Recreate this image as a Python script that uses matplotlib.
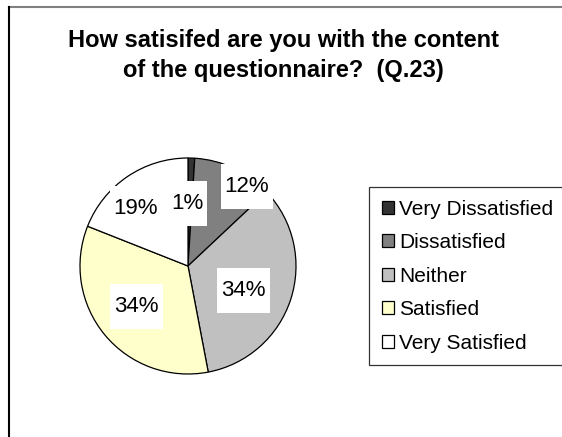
import numpy as np
import matplotlib
matplotlib.use("Agg")
import matplotlib.pyplot as plt
from matplotlib.patches import Rectangle, Patch
from matplotlib.lines import Line2D

plt.rcParams['font.family'] = ['Liberation Sans', 'DejaVu Sans']

categories = ["Very Dissatisfied", "Dissatisfied", "Neither", "Satisfied", "Very Satisfied"]
percentages = [1, 12, 34, 34, 19]
colors = ["#333333", "#808080", "#C0C0C0", "#FFFFCC", "#FFFFFF"]

title_line1 = "How satisifed are you with the content"
title_line2 = "of the questionnaire?  (Q.23)"

# label placement: radial distance (fraction of radius) and angular nudge (deg)
label_dist = [0.58, 0.92, 0.56, 0.61, 0.715]
label_nudge = [2.7, -11.2, -5.6, -1.3, 8.2]

W, H = 562, 437
fig = plt.figure(figsize=(W / 100, H / 100), dpi=100)
ax = fig.add_axes([0, 0, 1, 1])

cx, cy, r = 188, H - 266, 108
wedges, _ = ax.pie(percentages, colors=colors, startangle=90, counterclock=False,
                   center=(cx, cy), radius=r,
                   wedgeprops=dict(edgecolor="black", linewidth=0.9))
ax.set_xlim(0, W)
ax.set_ylim(0, H)
ax.set_aspect("equal")
ax.axis("off")

texts = []
for w, p, d, nudge in zip(wedges, percentages, label_dist, label_nudge):
    mid = np.deg2rad((w.theta1 + w.theta2) / 2 + nudge)
    x = cx + r * d * np.cos(mid)
    y = cy + r * d * np.sin(mid)
    t = ax.text(x, y, f"{p}%", ha="center", va="center", fontsize=16, zorder=5)
    texts.append(t)

# chart frame: grey top rule, black left rule
fig.add_artist(Line2D([9 / W, 1], [1 - 7 / H, 1 - 7 / H], color="#808080", lw=1.5))
fig.add_artist(Line2D([9 / W, 9 / W], [0, 1 - 7 / H], color="black", lw=1.5))

fig.text(284 / W, 1 - 47 / H, title_line1, ha="center", va="baseline",
         fontsize=17, fontweight="bold")
fig.text(283 / W, 1 - 77 / H, title_line2, ha="center", va="baseline",
         fontsize=17, fontweight="bold")

handles = [Patch(facecolor=c, edgecolor="black", linewidth=0.9) for c in colors]
leg = fig.legend(handles, categories, loc="upper left",
                 bbox_to_anchor=(369 / W, 1 - 187 / H), borderaxespad=0,
                 fontsize=15, frameon=True, fancybox=False, edgecolor="black",
                 handlelength=0.58, handleheight=0.58, handletextpad=0.25,
                 labelspacing=0.7, borderpad=0.6)
leg.get_frame().set_linewidth(0.9)

# white boxes behind the percentage labels
fig.canvas.draw()
renderer = fig.canvas.get_renderer()
for t in texts:
    bb = t.get_window_extent(renderer)
    px, py = 4, 12
    rect = Rectangle((bb.x0 - px, bb.y0 - py), bb.width + 2 * px, bb.height + 2 * py,
                     transform=None, facecolor="white", edgecolor="none", zorder=4)
    ax.add_artist(rect)

fig.savefig("out.png", dpi=100)
